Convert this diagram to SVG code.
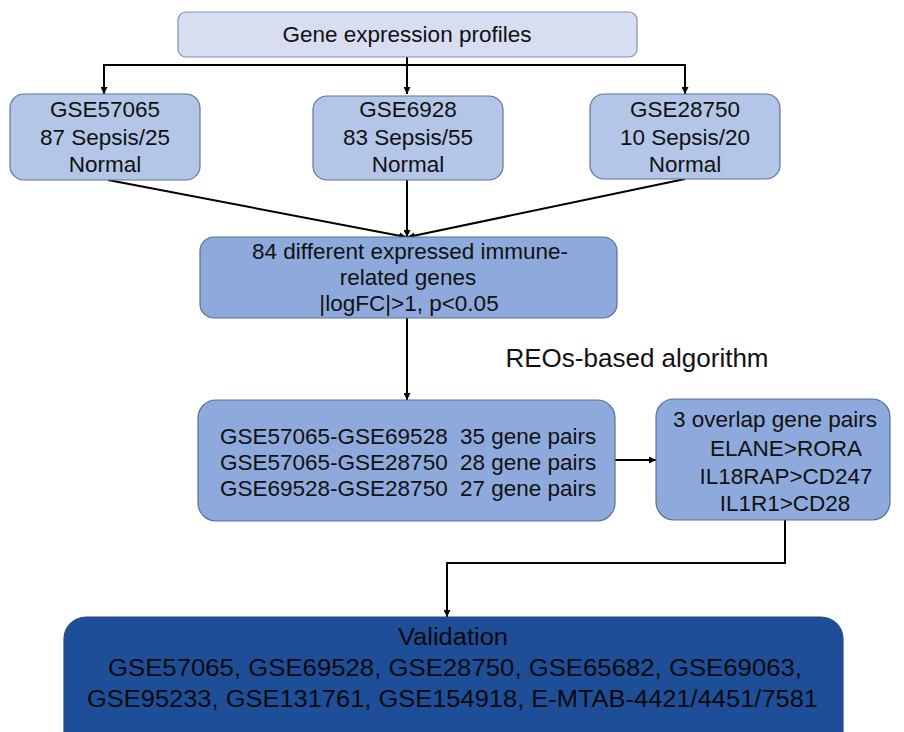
<svg xmlns="http://www.w3.org/2000/svg" width="904" height="732" viewBox="0 0 904 732">
<defs>
<marker id="ah" viewBox="0 0 10 10" refX="10" refY="5" markerWidth="7" markerHeight="7" markerUnits="userSpaceOnUse" orient="auto">
<path d="M0,0 L10,5 L0,10 z" fill="#000"/>
</marker>
<style>
text{font-family:"Liberation Sans",Arial,sans-serif;font-size:22.5px;fill:#111;text-anchor:middle}
.top{fill:#d8def2;stroke:#8090b4;stroke-width:1.2}
.lb{fill:#b4c6e8;stroke:#5f739c;stroke-width:1.2}
.mb{fill:#8eaadc;stroke:#5a6f9c;stroke-width:1.2}
.db{fill:#1f4e99;stroke:#2b4a80;stroke-width:1.2}
.c{fill:none;stroke:#000;stroke-width:2}
.a{marker-end:url(#ah)}
.v{font-size:23px;fill:#0a0a0a}
</style>
</defs>
<rect width="904" height="732" fill="#fff"/>
<g id="connectors">
<line class="c a" x1="407" y1="57" x2="407" y2="94"/>
<line class="c" x1="103" y1="65" x2="686" y2="65"/>
<line class="c a" x1="104" y1="65" x2="104" y2="94"/>
<line class="c a" x1="685" y1="65" x2="685" y2="94"/>
<line class="c a" x1="108" y1="180" x2="406" y2="237"/>
<line class="c a" x1="407" y1="180" x2="407" y2="237"/>
<line class="c a" x1="685" y1="179" x2="408" y2="237"/>
<line class="c a" x1="407" y1="318" x2="407" y2="400"/>
<line class="c a" x1="615" y1="460" x2="656" y2="460"/>
<polyline class="c a" points="785,520 785,563 447,563 447,617"/>
</g>
<g id="n_top">
<rect class="top" x="178" y="12" width="459" height="45" rx="8"/>
<text x="407" y="42">Gene expression profiles</text>
</g>
<g id="n_gse57065">
<rect class="lb" x="10" y="94" width="190" height="86" rx="14"/>
<text x="105" y="117">GSE57065</text>
<text x="105" y="145">87 Sepsis/25</text>
<text x="105" y="172">Normal</text>
</g>
<g id="n_gse6928">
<rect class="lb" x="313" y="96" width="190" height="84" rx="14"/>
<text x="408" y="117">GSE6928</text>
<text x="408" y="145">83 Sepsis/55</text>
<text x="408" y="172">Normal</text>
</g>
<g id="n_gse28750">
<rect class="lb" x="590" y="94" width="190" height="85" rx="14"/>
<text x="685" y="117">GSE28750</text>
<text x="685" y="145">10 Sepsis/20</text>
<text x="685" y="172">Normal</text>
</g>
<g id="n_deg">
<rect class="mb" x="200" y="237" width="417" height="81" rx="14"/>
<text x="410" y="259">84 different expressed immune-</text>
<text x="408" y="285">related genes</text>
<text x="409" y="311">|logFC|&gt;1, p&lt;0.05</text>
</g>
<text x="637" y="367" style="font-size:26px">REOs-based algorithm</text>
<g id="n_pairs">
<rect class="mb" x="198" y="400" width="417" height="121" rx="18"/>
<text x="220" y="444" style="text-anchor:start">GSE57065-GSE69528</text>
<text x="460" y="444" style="text-anchor:start">35 gene pairs</text>
<text x="220" y="470" style="text-anchor:start">GSE57065-GSE28750</text>
<text x="460" y="470" style="text-anchor:start">28 gene pairs</text>
<text x="220" y="496" style="text-anchor:start">GSE69528-GSE28750</text>
<text x="460" y="496" style="text-anchor:start">27 gene pairs</text>
</g>
<g id="n_overlap">
<rect class="mb" x="656" y="399" width="234" height="121" rx="18"/>
<text x="775" y="427">3 overlap gene pairs</text>
<text x="786" y="456">ELANE&gt;RORA</text>
<text x="786" y="484">IL18RAP&gt;CD247</text>
<text x="785" y="511">IL1R1&gt;CD28</text>
</g>
<g id="n_validation">
<rect class="db" x="64" y="617" width="779" height="150" rx="22"/>
<text class="v" x="453" y="645" textLength="110" lengthAdjust="spacingAndGlyphs">Validation</text>
<text class="v" x="455" y="676" textLength="694" lengthAdjust="spacingAndGlyphs">GSE57065, GSE69528, GSE28750, GSE65682, GSE69063,</text>
<text class="v" x="452.5" y="707" textLength="731" lengthAdjust="spacingAndGlyphs">GSE95233, GSE131761, GSE154918, E-MTAB-4421/4451/7581</text>
</g>
</svg>
